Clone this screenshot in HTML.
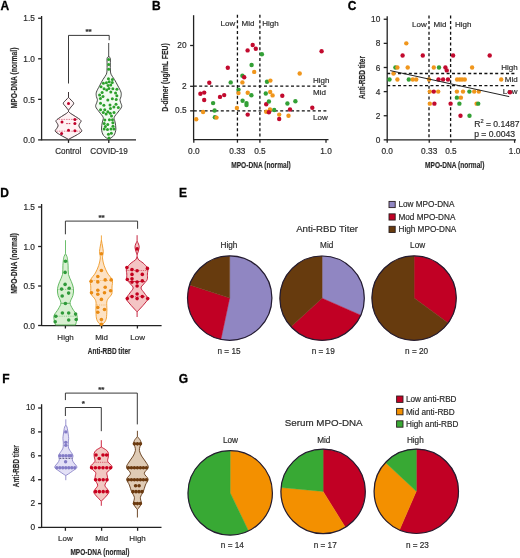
<!DOCTYPE html>
<html><head><meta charset="utf-8"><style>
html,body{margin:0;padding:0;background:#fff;}
svg{display:block;font-family:"Liberation Sans", sans-serif;filter:blur(0.3px);}
text{stroke:#2b2b2b;stroke-width:0.18px;}
</style></head><body>
<svg width="520" height="558" viewBox="0 0 520 558">
<rect width="520" height="558" fill="#fff"/>
<text x="0.5" y="10.3" font-size="12" text-anchor="start" font-weight="bold" fill="#000" style="stroke:#000;stroke-width:0.3px">A</text>
<text x="152.1" y="10.3" font-size="12" text-anchor="start" font-weight="bold" fill="#000" style="stroke:#000;stroke-width:0.3px">B</text>
<text x="347.7" y="10.3" font-size="12" text-anchor="start" font-weight="bold" fill="#000" style="stroke:#000;stroke-width:0.3px">C</text>
<text x="0.2" y="196.6" font-size="12" text-anchor="start" font-weight="bold" fill="#000" style="stroke:#000;stroke-width:0.3px">D</text>
<text x="179.1" y="196.6" font-size="12" text-anchor="start" font-weight="bold" fill="#000" style="stroke:#000;stroke-width:0.3px">E</text>
<text x="2.3" y="382.6" font-size="12" text-anchor="start" font-weight="bold" fill="#000" style="stroke:#000;stroke-width:0.3px">F</text>
<text x="178.7" y="382.6" font-size="12" text-anchor="start" font-weight="bold" fill="#000" style="stroke:#000;stroke-width:0.3px">G</text>
<line x1="41.60" y1="16.00" x2="41.60" y2="140.40" stroke="#222" stroke-width="1.3"/>
<line x1="38.10" y1="139.90" x2="41.60" y2="139.90" stroke="#222" stroke-width="1.3"/>
<text x="34.9" y="143.0" font-size="8.3" text-anchor="end" font-weight="normal" fill="#2b2b2b">0.0</text>
<line x1="38.10" y1="99.35" x2="41.60" y2="99.35" stroke="#222" stroke-width="1.3"/>
<text x="34.9" y="102.5" font-size="8.3" text-anchor="end" font-weight="normal" fill="#2b2b2b">0.5</text>
<line x1="38.10" y1="58.80" x2="41.60" y2="58.80" stroke="#222" stroke-width="1.3"/>
<text x="34.9" y="61.9" font-size="8.3" text-anchor="end" font-weight="normal" fill="#2b2b2b">1.0</text>
<line x1="38.10" y1="18.25" x2="41.60" y2="18.25" stroke="#222" stroke-width="1.3"/>
<text x="34.9" y="21.4" font-size="8.3" text-anchor="end" font-weight="normal" fill="#2b2b2b">1.5</text>
<line x1="41.60" y1="139.90" x2="136.00" y2="139.90" stroke="#222" stroke-width="1.3"/>
<line x1="68.50" y1="139.90" x2="68.50" y2="142.90" stroke="#222" stroke-width="1.3"/>
<line x1="108.80" y1="139.90" x2="108.80" y2="142.90" stroke="#222" stroke-width="1.3"/>
<text x="68.3" y="153.9" font-size="8.4" text-anchor="middle" font-weight="normal" fill="#2b2b2b" textLength="26.0" lengthAdjust="spacingAndGlyphs">Control</text>
<text x="109.1" y="153.9" font-size="8.4" text-anchor="middle" font-weight="normal" fill="#2b2b2b" textLength="37.6" lengthAdjust="spacingAndGlyphs">COVID-19</text>
<text transform="translate(13.5,78.0) rotate(-90)" x="0" y="3.47" font-size="9.7" text-anchor="middle" font-weight="bold" fill="#2b2b2b" textLength="61.0" lengthAdjust="spacingAndGlyphs">MPO-DNA (normal)</text>
<path d="M68.5,83.5 V35.4 H109.2 V40.2" fill="none" stroke="#222" stroke-width="0.9"/>
<text x="88.6" y="34.2" font-size="8" text-anchor="middle" font-weight="bold" fill="#2b2b2b">**</text>
<path d="M68.50,97.40 C68.92,97.83 70.13,99.02 71.00,100.00 C71.87,100.98 73.70,102.13 73.70,103.30 C73.70,104.47 71.87,105.83 71.00,107.00 C70.13,108.17 68.92,109.75 68.50,110.30 L68.50,110.30 C68.08,109.75 66.87,108.17 66.00,107.00 C65.13,105.83 63.30,104.47 63.30,103.30 C63.30,102.13 65.13,100.98 66.00,100.00 C66.87,99.02 68.08,97.83 68.50,97.40 Z" fill="#fff2f4" stroke="#2b1f22" stroke-width="0.9" stroke-linejoin="round"/>
<path d="M68.50,111.50 C68.87,111.83 69.53,112.67 70.70,113.50 C71.87,114.33 73.80,115.33 75.50,116.50 C77.20,117.67 80.20,119.33 80.90,120.50 C81.60,121.67 80.03,122.60 79.70,123.50 C79.37,124.40 78.80,125.07 78.90,125.90 C79.00,126.73 79.83,127.62 80.30,128.50 C80.77,129.38 82.17,130.20 81.70,131.20 C81.23,132.20 79.12,133.45 77.50,134.50 C75.88,135.55 73.50,136.68 72.00,137.50 C70.50,138.32 69.08,139.08 68.50,139.40 L68.50,139.40 C67.92,139.08 66.50,138.32 65.00,137.50 C63.50,136.68 61.12,135.55 59.50,134.50 C57.88,133.45 55.77,132.20 55.30,131.20 C54.83,130.20 56.23,129.38 56.70,128.50 C57.17,127.62 58.00,126.73 58.10,125.90 C58.20,125.07 57.63,124.40 57.30,123.50 C56.97,122.60 55.40,121.67 56.10,120.50 C56.80,119.33 59.80,117.67 61.50,116.50 C63.20,115.33 65.13,114.33 66.30,113.50 C67.47,112.67 68.13,111.83 68.50,111.50 Z" fill="#fff2f4" stroke="#2b1f22" stroke-width="0.9" stroke-linejoin="round"/>
<line x1="68.50" y1="92.00" x2="68.50" y2="97.40" stroke="#2b1f22" stroke-width="0.9"/>
<line x1="68.50" y1="110.30" x2="68.50" y2="111.50" stroke="#2b1f22" stroke-width="0.9"/>
<line x1="58.58" y1="119.40" x2="78.42" y2="119.40" stroke="#d03050" stroke-width="0.6" stroke-dasharray="1.5,1"/>
<line x1="56.30" y1="131.20" x2="80.70" y2="131.20" stroke="#d03050" stroke-width="0.6" stroke-dasharray="1.5,1"/>
<line x1="66.20" y1="123.60" x2="70.80" y2="123.60" stroke="#c0002a" stroke-width="0.8" stroke-dasharray="1.6,0.9"/>
<circle cx="68.50" cy="103.50" r="1.5" fill="#c0002a"/>
<circle cx="74.90" cy="119.40" r="1.5" fill="#c0002a"/>
<circle cx="62.00" cy="122.10" r="1.5" fill="#c0002a"/>
<circle cx="74.90" cy="123.50" r="1.5" fill="#c0002a"/>
<circle cx="68.50" cy="130.20" r="1.5" fill="#c0002a"/>
<circle cx="74.90" cy="130.70" r="1.5" fill="#c0002a"/>
<circle cx="61.60" cy="133.40" r="1.5" fill="#c0002a"/>
<line x1="108.70" y1="43.00" x2="108.70" y2="57.00" stroke="#333" stroke-width="0.9"/>
<path d="M108.70,56.70 C108.93,56.85 109.82,57.05 110.10,57.60 C110.38,58.15 110.37,58.77 110.40,60.00 C110.43,61.23 110.30,63.33 110.30,65.00 C110.30,66.67 110.28,68.47 110.40,70.00 C110.52,71.53 110.32,72.60 111.00,74.20 C111.68,75.80 113.35,77.65 114.50,79.60 C115.65,81.55 116.82,83.80 117.90,85.90 C118.98,88.00 120.48,90.42 121.00,92.20 C121.52,93.98 121.17,95.38 121.00,96.60 C120.83,97.82 120.08,98.57 120.00,99.50 C119.92,100.43 120.22,101.00 120.50,102.20 C120.78,103.40 122.10,105.07 121.70,106.70 C121.30,108.33 119.35,110.22 118.10,112.00 C116.85,113.78 114.72,115.75 114.20,117.40 C113.68,119.05 114.72,119.97 115.00,121.90 C115.28,123.83 116.08,126.75 115.90,129.00 C115.72,131.25 115.10,133.67 113.90,135.40 C112.70,137.13 109.57,138.73 108.70,139.40 L108.70,139.40 C107.83,138.73 104.70,137.13 103.50,135.40 C102.30,133.67 101.68,131.25 101.50,129.00 C101.32,126.75 102.12,123.83 102.40,121.90 C102.68,119.97 103.72,119.05 103.20,117.40 C102.68,115.75 100.55,113.78 99.30,112.00 C98.05,110.22 96.10,108.33 95.70,106.70 C95.30,105.07 96.62,103.40 96.90,102.20 C97.18,101.00 97.48,100.43 97.40,99.50 C97.32,98.57 96.57,97.82 96.40,96.60 C96.23,95.38 95.88,93.98 96.40,92.20 C96.92,90.42 98.42,88.00 99.50,85.90 C100.58,83.80 101.75,81.55 102.90,79.60 C104.05,77.65 105.72,75.80 106.40,74.20 C107.08,72.60 106.88,71.53 107.00,70.00 C107.12,68.47 107.10,66.67 107.10,65.00 C107.10,63.33 106.97,61.23 107.00,60.00 C107.03,58.77 107.02,58.15 107.30,57.60 C107.58,57.05 108.47,56.85 108.70,56.70 Z" fill="#f1fbf0" stroke="#333" stroke-width="0.9" stroke-linejoin="round"/>
<circle cx="108.70" cy="59.60" r="1.5" fill="#2ca02c"/>
<circle cx="108.70" cy="64.40" r="1.5" fill="#2ca02c"/>
<circle cx="108.70" cy="69.30" r="1.5" fill="#2ca02c"/>
<circle cx="110.00" cy="105.05" r="1.5" fill="#2ca02c"/>
<circle cx="108.44" cy="134.30" r="1.5" fill="#2ca02c"/>
<circle cx="110.46" cy="108.49" r="1.5" fill="#2ca02c"/>
<circle cx="108.91" cy="88.45" r="1.5" fill="#2ca02c"/>
<circle cx="111.50" cy="116.05" r="1.5" fill="#2ca02c"/>
<circle cx="106.40" cy="82.84" r="1.5" fill="#2ca02c"/>
<circle cx="112.25" cy="82.62" r="1.5" fill="#2ca02c"/>
<circle cx="104.80" cy="119.99" r="1.5" fill="#2ca02c"/>
<circle cx="108.94" cy="137.90" r="1.5" fill="#2ca02c"/>
<circle cx="101.01" cy="86.76" r="1.5" fill="#2ca02c"/>
<circle cx="100.58" cy="109.76" r="1.5" fill="#2ca02c"/>
<circle cx="104.09" cy="88.79" r="1.5" fill="#2ca02c"/>
<circle cx="108.44" cy="78.87" r="1.5" fill="#2ca02c"/>
<circle cx="116.00" cy="104.31" r="1.5" fill="#2ca02c"/>
<circle cx="103.85" cy="105.35" r="1.5" fill="#2ca02c"/>
<circle cx="110.97" cy="129.09" r="1.5" fill="#2ca02c"/>
<circle cx="102.97" cy="96.55" r="1.5" fill="#2ca02c"/>
<circle cx="99.59" cy="94.92" r="1.5" fill="#2ca02c"/>
<circle cx="107.72" cy="124.51" r="1.5" fill="#2ca02c"/>
<circle cx="107.49" cy="129.49" r="1.5" fill="#2ca02c"/>
<circle cx="103.35" cy="83.26" r="1.5" fill="#2ca02c"/>
<circle cx="105.37" cy="126.42" r="1.5" fill="#2ca02c"/>
<circle cx="107.87" cy="111.68" r="1.5" fill="#2ca02c"/>
<circle cx="112.85" cy="88.82" r="1.5" fill="#2ca02c"/>
<circle cx="110.73" cy="85.12" r="1.5" fill="#2ca02c"/>
<circle cx="116.86" cy="95.86" r="1.5" fill="#2ca02c"/>
<circle cx="106.68" cy="90.06" r="1.5" fill="#2ca02c"/>
<circle cx="110.83" cy="92.07" r="1.5" fill="#2ca02c"/>
<circle cx="107.79" cy="100.05" r="1.5" fill="#2ca02c"/>
<circle cx="114.01" cy="112.62" r="1.5" fill="#2ca02c"/>
<circle cx="111.34" cy="133.32" r="1.5" fill="#2ca02c"/>
<circle cx="102.12" cy="92.47" r="1.5" fill="#2ca02c"/>
<circle cx="112.86" cy="122.84" r="1.5" fill="#2ca02c"/>
<circle cx="116.91" cy="89.19" r="1.5" fill="#2ca02c"/>
<circle cx="100.50" cy="103.13" r="1.5" fill="#2ca02c"/>
<circle cx="112.37" cy="79.40" r="1.5" fill="#2ca02c"/>
<circle cx="115.56" cy="92.93" r="1.5" fill="#2ca02c"/>
<circle cx="106.11" cy="113.98" r="1.5" fill="#2ca02c"/>
<circle cx="103.28" cy="112.47" r="1.5" fill="#2ca02c"/>
<circle cx="116.22" cy="99.45" r="1.5" fill="#2ca02c"/>
<circle cx="109.42" cy="119.86" r="1.5" fill="#2ca02c"/>
<circle cx="113.85" cy="106.90" r="1.5" fill="#2ca02c"/>
<circle cx="109.18" cy="81.67" r="1.5" fill="#2ca02c"/>
<circle cx="112.97" cy="126.18" r="1.5" fill="#2ca02c"/>
<circle cx="112.34" cy="98.81" r="1.5" fill="#2ca02c"/>
<circle cx="110.20" cy="113.13" r="1.5" fill="#2ca02c"/>
<circle cx="104.12" cy="128.98" r="1.5" fill="#2ca02c"/>
<circle cx="104.18" cy="123.51" r="1.5" fill="#2ca02c"/>
<circle cx="113.99" cy="129.03" r="1.5" fill="#2ca02c"/>
<circle cx="108.05" cy="85.42" r="1.5" fill="#2ca02c"/>
<circle cx="100.43" cy="98.61" r="1.5" fill="#2ca02c"/>
<circle cx="112.46" cy="119.74" r="1.5" fill="#2ca02c"/>
<circle cx="118.34" cy="107.54" r="1.5" fill="#2ca02c"/>
<circle cx="104.80" cy="109.65" r="1.5" fill="#2ca02c"/>
<line x1="193.60" y1="15.20" x2="193.60" y2="140.20" stroke="#222" stroke-width="1.3"/>
<line x1="190.10" y1="45.50" x2="193.60" y2="45.50" stroke="#222" stroke-width="1.3"/>
<text x="186.6" y="48.0" font-size="8.3" text-anchor="end" font-weight="normal" fill="#2b2b2b">20</text>
<line x1="190.10" y1="86.30" x2="193.60" y2="86.30" stroke="#222" stroke-width="1.3"/>
<text x="186.6" y="88.8" font-size="8.3" text-anchor="end" font-weight="normal" fill="#2b2b2b">2</text>
<line x1="190.10" y1="110.86" x2="193.60" y2="110.86" stroke="#222" stroke-width="1.3"/>
<text x="186.6" y="113.4" font-size="8.3" text-anchor="end" font-weight="normal" fill="#2b2b2b">0.5</text>
<line x1="193.80" y1="139.70" x2="328.50" y2="139.70" stroke="#222" stroke-width="1.3"/>
<line x1="193.80" y1="139.70" x2="193.80" y2="142.70" stroke="#222" stroke-width="1.3"/>
<text x="193.8" y="154.0" font-size="8.3" text-anchor="middle" font-weight="normal" fill="#2b2b2b">0.0</text>
<line x1="237.43" y1="139.70" x2="237.43" y2="142.70" stroke="#222" stroke-width="1.3"/>
<text x="237.4" y="154.0" font-size="8.3" text-anchor="middle" font-weight="normal" fill="#2b2b2b">0.33</text>
<line x1="259.90" y1="139.70" x2="259.90" y2="142.70" stroke="#222" stroke-width="1.3"/>
<text x="259.9" y="154.0" font-size="8.3" text-anchor="middle" font-weight="normal" fill="#2b2b2b">0.5</text>
<line x1="326.00" y1="139.70" x2="326.00" y2="142.70" stroke="#222" stroke-width="1.3"/>
<text x="326.0" y="154.0" font-size="8.3" text-anchor="middle" font-weight="normal" fill="#2b2b2b">1.0</text>
<line x1="237.43" y1="14.80" x2="237.43" y2="139.70" stroke="#111" stroke-width="1.3" stroke-dasharray="3,2.4"/>
<line x1="259.90" y1="14.80" x2="259.90" y2="139.70" stroke="#111" stroke-width="1.3" stroke-dasharray="3,2.4"/>
<line x1="193.80" y1="86.20" x2="327.70" y2="86.20" stroke="#111" stroke-width="1.3" stroke-dasharray="3,2.4"/>
<line x1="193.80" y1="110.80" x2="327.70" y2="110.80" stroke="#111" stroke-width="1.3" stroke-dasharray="3,2.4"/>
<text x="235.3" y="25.8" font-size="8.0" text-anchor="end" font-weight="normal" fill="#2b2b2b">Low</text>
<text x="241.6" y="25.8" font-size="8.0" text-anchor="start" font-weight="normal" fill="#2b2b2b">Mid</text>
<text x="262.2" y="25.8" font-size="8.0" text-anchor="start" font-weight="normal" fill="#2b2b2b">High</text>
<text x="313.0" y="83.3" font-size="8.0" text-anchor="start" font-weight="normal" fill="#2b2b2b">High</text>
<text x="313.0" y="95.4" font-size="8.0" text-anchor="start" font-weight="normal" fill="#2b2b2b">Mid</text>
<text x="313.0" y="120.0" font-size="8.0" text-anchor="start" font-weight="normal" fill="#2b2b2b">Low</text>
<text transform="translate(164.7,77.5) rotate(-90)" x="0" y="3.47" font-size="9.7" text-anchor="middle" font-weight="bold" fill="#2b2b2b" textLength="68.5" lengthAdjust="spacingAndGlyphs">D-dimer (ug/mL FEU)</text>
<text x="231.2" y="168.0" font-size="9.7" text-anchor="start" font-weight="bold" fill="#2b2b2b" textLength="59.6" lengthAdjust="spacingAndGlyphs">MPO-DNA (normal)</text>
<circle cx="252.70" cy="45.00" r="2.2" fill="#c20a2e"/>
<circle cx="247.60" cy="50.40" r="2.2" fill="#c20a2e"/>
<circle cx="255.80" cy="48.80" r="2.2" fill="#c20a2e"/>
<circle cx="261.90" cy="54.20" r="2.2" fill="#33a036"/>
<circle cx="321.60" cy="51.20" r="2.2" fill="#c20a2e"/>
<circle cx="227.80" cy="67.80" r="2.2" fill="#c20a2e"/>
<circle cx="251.60" cy="65.00" r="2.2" fill="#33a036"/>
<circle cx="254.20" cy="71.90" r="2.2" fill="#f0961c"/>
<circle cx="242.40" cy="75.80" r="2.2" fill="#33a036"/>
<circle cx="244.20" cy="77.30" r="2.2" fill="#c20a2e"/>
<circle cx="209.30" cy="82.70" r="2.2" fill="#c20a2e"/>
<circle cx="230.70" cy="82.40" r="2.2" fill="#33a036"/>
<circle cx="242.40" cy="82.40" r="2.2" fill="#f0961c"/>
<circle cx="267.00" cy="81.80" r="2.2" fill="#33a036"/>
<circle cx="270.40" cy="80.60" r="2.2" fill="#f0961c"/>
<circle cx="299.70" cy="73.50" r="2.2" fill="#f0961c"/>
<circle cx="200.40" cy="93.80" r="2.2" fill="#c20a2e"/>
<circle cx="204.20" cy="92.60" r="2.2" fill="#c20a2e"/>
<circle cx="204.20" cy="100.00" r="2.2" fill="#c20a2e"/>
<circle cx="220.00" cy="96.90" r="2.2" fill="#c20a2e"/>
<circle cx="224.20" cy="95.10" r="2.2" fill="#c20a2e"/>
<circle cx="238.50" cy="89.60" r="2.2" fill="#33a036"/>
<circle cx="238.50" cy="93.10" r="2.2" fill="#f0961c"/>
<circle cx="247.70" cy="92.80" r="2.2" fill="#f0961c"/>
<circle cx="251.40" cy="95.20" r="2.2" fill="#33a036"/>
<circle cx="265.80" cy="93.50" r="2.2" fill="#33a036"/>
<circle cx="270.20" cy="92.00" r="2.2" fill="#f0961c"/>
<circle cx="272.60" cy="95.40" r="2.2" fill="#f0961c"/>
<circle cx="282.30" cy="95.80" r="2.2" fill="#c20a2e"/>
<circle cx="213.10" cy="103.10" r="2.2" fill="#33a036"/>
<circle cx="242.60" cy="100.80" r="2.2" fill="#33a036"/>
<circle cx="246.50" cy="103.10" r="2.2" fill="#33a036"/>
<circle cx="246.50" cy="105.10" r="2.2" fill="#33a036"/>
<circle cx="214.60" cy="110.50" r="2.2" fill="#33a036"/>
<circle cx="203.10" cy="112.00" r="2.2" fill="#f0961c"/>
<circle cx="236.90" cy="108.00" r="2.2" fill="#f0961c"/>
<circle cx="266.20" cy="104.30" r="2.2" fill="#c20a2e"/>
<circle cx="268.90" cy="101.50" r="2.2" fill="#33a036"/>
<circle cx="287.40" cy="103.50" r="2.2" fill="#33a036"/>
<circle cx="295.40" cy="101.20" r="2.2" fill="#33a036"/>
<circle cx="312.30" cy="107.70" r="2.2" fill="#c20a2e"/>
<circle cx="290.00" cy="109.50" r="2.2" fill="#c20a2e"/>
<circle cx="274.20" cy="110.00" r="2.2" fill="#33a036"/>
<circle cx="266.20" cy="111.70" r="2.2" fill="#f0961c"/>
<circle cx="270.00" cy="109.50" r="2.2" fill="#f0961c"/>
<circle cx="268.90" cy="112.30" r="2.2" fill="#c20a2e"/>
<circle cx="279.20" cy="114.60" r="2.2" fill="#f0961c"/>
<circle cx="279.20" cy="119.00" r="2.2" fill="#c20a2e"/>
<circle cx="288.50" cy="115.80" r="2.2" fill="#f0961c"/>
<circle cx="247.70" cy="114.60" r="2.2" fill="#c20a2e"/>
<circle cx="196.20" cy="119.20" r="2.2" fill="#f0961c"/>
<circle cx="214.90" cy="117.20" r="2.2" fill="#33a036"/>
<circle cx="216.50" cy="117.60" r="2.2" fill="#f0961c"/>
<line x1="387.20" y1="16.30" x2="387.20" y2="140.30" stroke="#222" stroke-width="1.3"/>
<line x1="383.70" y1="139.85" x2="387.20" y2="139.85" stroke="#222" stroke-width="1.3"/>
<text x="380.3" y="142.8" font-size="8.3" text-anchor="end" font-weight="normal" fill="#2b2b2b">0</text>
<line x1="383.70" y1="115.73" x2="387.20" y2="115.73" stroke="#222" stroke-width="1.3"/>
<text x="380.3" y="118.7" font-size="8.3" text-anchor="end" font-weight="normal" fill="#2b2b2b">2</text>
<line x1="383.70" y1="91.61" x2="387.20" y2="91.61" stroke="#222" stroke-width="1.3"/>
<text x="380.3" y="94.6" font-size="8.3" text-anchor="end" font-weight="normal" fill="#2b2b2b">4</text>
<line x1="383.70" y1="67.49" x2="387.20" y2="67.49" stroke="#222" stroke-width="1.3"/>
<text x="380.3" y="70.5" font-size="8.3" text-anchor="end" font-weight="normal" fill="#2b2b2b">6</text>
<line x1="383.70" y1="43.37" x2="387.20" y2="43.37" stroke="#222" stroke-width="1.3"/>
<text x="380.3" y="46.4" font-size="8.3" text-anchor="end" font-weight="normal" fill="#2b2b2b">8</text>
<line x1="383.70" y1="19.25" x2="387.20" y2="19.25" stroke="#222" stroke-width="1.3"/>
<text x="380.3" y="22.2" font-size="8.3" text-anchor="end" font-weight="normal" fill="#2b2b2b">10</text>
<line x1="387.20" y1="139.80" x2="516.00" y2="139.80" stroke="#222" stroke-width="1.3"/>
<line x1="387.20" y1="139.80" x2="387.20" y2="142.80" stroke="#222" stroke-width="1.3"/>
<text x="387.2" y="154.2" font-size="8.3" text-anchor="middle" font-weight="normal" fill="#2b2b2b">0.0</text>
<line x1="429.24" y1="139.80" x2="429.24" y2="142.80" stroke="#222" stroke-width="1.3"/>
<text x="429.2" y="154.2" font-size="8.3" text-anchor="middle" font-weight="normal" fill="#2b2b2b">0.33</text>
<line x1="450.90" y1="139.80" x2="450.90" y2="142.80" stroke="#222" stroke-width="1.3"/>
<text x="450.9" y="154.2" font-size="8.3" text-anchor="middle" font-weight="normal" fill="#2b2b2b">0.5</text>
<line x1="514.60" y1="139.80" x2="514.60" y2="142.80" stroke="#222" stroke-width="1.3"/>
<text x="514.6" y="154.2" font-size="8.3" text-anchor="middle" font-weight="normal" fill="#2b2b2b">1.0</text>
<line x1="429.00" y1="15.50" x2="429.00" y2="139.80" stroke="#111" stroke-width="1.3" stroke-dasharray="3,2.4"/>
<line x1="450.60" y1="15.50" x2="450.60" y2="139.80" stroke="#111" stroke-width="1.3" stroke-dasharray="3,2.4"/>
<line x1="387.20" y1="73.50" x2="514.60" y2="73.50" stroke="#111" stroke-width="1.3" stroke-dasharray="3,2.4"/>
<line x1="387.20" y1="85.60" x2="514.60" y2="85.60" stroke="#111" stroke-width="1.3" stroke-dasharray="3,2.4"/>
<text x="426.8" y="27.2" font-size="8.0" text-anchor="end" font-weight="normal" fill="#2b2b2b">Low</text>
<text x="433.5" y="27.2" font-size="8.0" text-anchor="start" font-weight="normal" fill="#2b2b2b">Mid</text>
<text x="455.0" y="27.2" font-size="8.0" text-anchor="start" font-weight="normal" fill="#2b2b2b">High</text>
<text x="517.7" y="69.9" font-size="8.0" text-anchor="end" font-weight="normal" fill="#2b2b2b">High</text>
<text x="517.7" y="81.9" font-size="8.0" text-anchor="end" font-weight="normal" fill="#2b2b2b">Mid</text>
<text x="517.5" y="94.3" font-size="8.0" text-anchor="end" font-weight="normal" fill="#2b2b2b">Low</text>
<text transform="translate(361.1,77.5) rotate(-90)" x="0" y="3.47" font-size="9.7" text-anchor="middle" font-weight="bold" fill="#2b2b2b" textLength="43.0" lengthAdjust="spacingAndGlyphs">Anti-RBD titer</text>
<text x="425.1" y="168.0" font-size="9.7" text-anchor="start" font-weight="bold" fill="#2b2b2b" textLength="59.3" lengthAdjust="spacingAndGlyphs">MPO-DNA (normal)</text>
<circle cx="406.30" cy="43.37" r="2.2" fill="#f0961c"/>
<circle cx="402.60" cy="55.43" r="2.2" fill="#c20a2e"/>
<circle cx="422.80" cy="55.43" r="2.2" fill="#c20a2e"/>
<circle cx="453.10" cy="55.43" r="2.2" fill="#c20a2e"/>
<circle cx="489.70" cy="55.43" r="2.2" fill="#c20a2e"/>
<circle cx="395.40" cy="67.49" r="2.2" fill="#33a036"/>
<circle cx="439.00" cy="67.49" r="2.2" fill="#33a036"/>
<circle cx="397.40" cy="67.49" r="2.2" fill="#f0961c"/>
<circle cx="407.70" cy="67.49" r="2.2" fill="#f0961c"/>
<circle cx="433.80" cy="67.49" r="2.2" fill="#f0961c"/>
<circle cx="472.10" cy="67.49" r="2.2" fill="#f0961c"/>
<circle cx="445.40" cy="67.49" r="2.2" fill="#c20a2e"/>
<circle cx="446.80" cy="70.40" r="2.2" fill="#c20a2e"/>
<circle cx="393.50" cy="73.52" r="2.2" fill="#f0961c"/>
<circle cx="389.50" cy="79.55" r="2.2" fill="#33a036"/>
<circle cx="408.80" cy="79.55" r="2.2" fill="#33a036"/>
<circle cx="397.40" cy="79.55" r="2.2" fill="#f0961c"/>
<circle cx="412.80" cy="79.55" r="2.2" fill="#f0961c"/>
<circle cx="416.20" cy="79.55" r="2.2" fill="#f0961c"/>
<circle cx="429.00" cy="79.55" r="2.2" fill="#f0961c"/>
<circle cx="457.10" cy="79.55" r="2.2" fill="#f0961c"/>
<circle cx="459.80" cy="79.55" r="2.2" fill="#f0961c"/>
<circle cx="462.10" cy="79.55" r="2.2" fill="#f0961c"/>
<circle cx="464.80" cy="79.55" r="2.2" fill="#f0961c"/>
<circle cx="501.20" cy="79.55" r="2.2" fill="#f0961c"/>
<circle cx="438.50" cy="79.55" r="2.2" fill="#c20a2e"/>
<circle cx="443.10" cy="79.55" r="2.2" fill="#c20a2e"/>
<circle cx="448.00" cy="79.55" r="2.2" fill="#c20a2e"/>
<circle cx="429.80" cy="91.61" r="2.2" fill="#f0961c"/>
<circle cx="438.20" cy="91.61" r="2.2" fill="#f0961c"/>
<circle cx="456.90" cy="91.61" r="2.2" fill="#f0961c"/>
<circle cx="463.00" cy="91.61" r="2.2" fill="#f0961c"/>
<circle cx="474.20" cy="91.61" r="2.2" fill="#f0961c"/>
<circle cx="478.80" cy="91.61" r="2.2" fill="#f0961c"/>
<circle cx="433.80" cy="91.61" r="2.2" fill="#c20a2e"/>
<circle cx="469.40" cy="91.61" r="2.2" fill="#33a036"/>
<circle cx="510.00" cy="92.30" r="2.2" fill="#c20a2e"/>
<circle cx="456.90" cy="97.64" r="2.2" fill="#33a036"/>
<circle cx="460.90" cy="97.64" r="2.2" fill="#f0961c"/>
<circle cx="429.80" cy="103.67" r="2.2" fill="#f0961c"/>
<circle cx="476.60" cy="103.67" r="2.2" fill="#f0961c"/>
<circle cx="434.40" cy="103.67" r="2.2" fill="#c20a2e"/>
<circle cx="450.60" cy="103.67" r="2.2" fill="#c20a2e"/>
<circle cx="459.40" cy="103.67" r="2.2" fill="#33a036"/>
<circle cx="478.20" cy="103.67" r="2.2" fill="#33a036"/>
<circle cx="460.50" cy="115.73" r="2.2" fill="#c20a2e"/>
<circle cx="469.50" cy="115.73" r="2.2" fill="#33a036"/>
<line x1="390.20" y1="70.60" x2="509.20" y2="96.60" stroke="#222" stroke-width="1.0"/>
<text x="474.2" y="126.5" font-size="8.6" text-anchor="start" font-weight="normal" fill="#2b2b2b">R<tspan font-size="5.6" dy="-3.2">2</tspan><tspan dy="3.2"> = 0.1487</tspan></text>
<text x="474.2" y="136.5" font-size="8.6" text-anchor="start" font-weight="normal" fill="#2b2b2b">p = 0.0043</text>
<line x1="41.60" y1="204.00" x2="41.60" y2="326.00" stroke="#222" stroke-width="1.3"/>
<line x1="38.10" y1="325.50" x2="41.60" y2="325.50" stroke="#222" stroke-width="1.3"/>
<text x="35.0" y="328.6" font-size="8.3" text-anchor="end" font-weight="normal" fill="#2b2b2b">0.0</text>
<line x1="38.10" y1="286.00" x2="41.60" y2="286.00" stroke="#222" stroke-width="1.3"/>
<text x="35.0" y="289.1" font-size="8.3" text-anchor="end" font-weight="normal" fill="#2b2b2b">0.5</text>
<line x1="38.10" y1="246.50" x2="41.60" y2="246.50" stroke="#222" stroke-width="1.3"/>
<text x="35.0" y="249.6" font-size="8.3" text-anchor="end" font-weight="normal" fill="#2b2b2b">1.0</text>
<line x1="38.10" y1="207.00" x2="41.60" y2="207.00" stroke="#222" stroke-width="1.3"/>
<text x="35.0" y="210.1" font-size="8.3" text-anchor="end" font-weight="normal" fill="#2b2b2b">1.5</text>
<line x1="41.60" y1="325.60" x2="161.60" y2="325.60" stroke="#222" stroke-width="1.3"/>
<line x1="65.40" y1="325.50" x2="65.40" y2="328.50" stroke="#222" stroke-width="1.3"/>
<line x1="101.60" y1="325.50" x2="101.60" y2="328.50" stroke="#222" stroke-width="1.3"/>
<line x1="137.40" y1="325.50" x2="137.40" y2="328.50" stroke="#222" stroke-width="1.3"/>
<text x="65.6" y="339.6" font-size="8.0" text-anchor="middle" font-weight="normal" fill="#2b2b2b">High</text>
<text x="101.6" y="339.6" font-size="8.0" text-anchor="middle" font-weight="normal" fill="#2b2b2b">Mid</text>
<text x="137.6" y="339.6" font-size="8.0" text-anchor="middle" font-weight="normal" fill="#2b2b2b">Low</text>
<text x="87.8" y="353.6" font-size="9.7" text-anchor="start" font-weight="bold" fill="#2b2b2b" textLength="42.8" lengthAdjust="spacingAndGlyphs">Anti-RBD titer</text>
<text transform="translate(13.5,263.5) rotate(-90)" x="0" y="3.47" font-size="9.7" text-anchor="middle" font-weight="bold" fill="#2b2b2b" textLength="60.5" lengthAdjust="spacingAndGlyphs">MPO-DNA (normal)</text>
<path d="M65.4,234.3 V221.1 H137.6 V228.8" fill="none" stroke="#222" stroke-width="0.9"/>
<text x="101.6" y="220.0" font-size="8" text-anchor="middle" font-weight="bold" fill="#2b2b2b">**</text>
<line x1="65.50" y1="240.20" x2="65.50" y2="253.60" stroke="#5cb85c" stroke-width="0.9"/>
<path d="M65.50,253.60 C65.70,254.00 66.38,255.22 66.70,256.00 C67.02,256.78 67.17,256.77 67.40,258.30 C67.63,259.83 67.92,262.50 68.10,265.20 C68.28,267.90 67.97,271.78 68.50,274.50 C69.03,277.22 70.47,279.17 71.30,281.50 C72.13,283.83 73.23,286.17 73.50,288.50 C73.77,290.83 73.47,293.13 72.90,295.50 C72.33,297.87 70.13,300.45 70.10,302.70 C70.07,304.95 71.57,306.90 72.70,309.00 C73.83,311.10 76.22,313.47 76.90,315.30 C77.58,317.13 77.03,318.38 76.80,320.00 C76.57,321.62 75.72,324.17 75.50,325.00 L55.50,325.00 C55.28,324.17 54.43,321.62 54.20,320.00 C53.97,318.38 53.42,317.13 54.10,315.30 C54.78,313.47 57.17,311.10 58.30,309.00 C59.43,306.90 60.93,304.95 60.90,302.70 C60.87,300.45 58.67,297.87 58.10,295.50 C57.53,293.13 57.23,290.83 57.50,288.50 C57.77,286.17 58.87,283.83 59.70,281.50 C60.53,279.17 61.97,277.22 62.50,274.50 C63.03,271.78 62.72,267.90 62.90,265.20 C63.08,262.50 63.37,259.83 63.60,258.30 C63.83,256.77 63.98,256.78 64.30,256.00 C64.62,255.22 65.30,254.00 65.50,253.60 Z" fill="#d9f0d2" stroke="#56b356" stroke-width="0.9" stroke-linejoin="round"/>
<line x1="58.38" y1="289.40" x2="72.62" y2="289.40" stroke="#60b060" stroke-width="0.6" stroke-dasharray="1.2,1"/>
<line x1="54.92" y1="316.20" x2="76.08" y2="316.20" stroke="#60b060" stroke-width="0.6" stroke-dasharray="1.2,1"/>
<line x1="61.15" y1="303.30" x2="69.85" y2="303.30" stroke="#4aa84a" stroke-width="0.8"/>
<circle cx="65.50" cy="261.20" r="1.8" fill="#2f9a3a"/>
<circle cx="65.10" cy="272.40" r="1.8" fill="#2f9a3a"/>
<circle cx="65.10" cy="284.40" r="1.8" fill="#2f9a3a"/>
<circle cx="61.60" cy="289.10" r="1.8" fill="#2f9a3a"/>
<circle cx="69.20" cy="288.30" r="1.8" fill="#2f9a3a"/>
<circle cx="68.60" cy="293.10" r="1.8" fill="#2f9a3a"/>
<circle cx="62.20" cy="296.00" r="1.8" fill="#2f9a3a"/>
<circle cx="65.40" cy="303.50" r="1.8" fill="#2f9a3a"/>
<circle cx="62.40" cy="313.00" r="1.8" fill="#2f9a3a"/>
<circle cx="68.70" cy="313.00" r="1.8" fill="#2f9a3a"/>
<circle cx="55.80" cy="316.20" r="1.8" fill="#2f9a3a"/>
<circle cx="75.60" cy="314.10" r="1.8" fill="#2f9a3a"/>
<circle cx="76.20" cy="319.50" r="1.8" fill="#2f9a3a"/>
<circle cx="68.70" cy="320.00" r="1.8" fill="#2f9a3a"/>
<circle cx="55.20" cy="321.80" r="1.8" fill="#2f9a3a"/>
<line x1="101.40" y1="235.40" x2="101.40" y2="240.00" stroke="#f0a030" stroke-width="0.9"/>
<path d="M101.40,240.00 C101.55,240.83 101.98,243.08 102.30,245.00 C102.62,246.92 103.23,249.75 103.30,251.50 C103.37,253.25 102.82,254.25 102.70,255.50 C102.58,256.75 102.37,257.33 102.60,259.00 C102.83,260.67 103.30,263.17 104.10,265.50 C104.90,267.83 106.05,270.58 107.40,273.00 C108.75,275.42 111.43,277.67 112.20,280.00 C112.97,282.33 112.07,284.67 112.00,287.00 C111.93,289.33 112.37,292.17 111.80,294.00 C111.23,295.83 109.43,296.67 108.60,298.00 C107.77,299.33 107.08,300.00 106.80,302.00 C106.52,304.00 106.97,307.33 106.90,310.00 C106.83,312.67 106.75,316.00 106.40,318.00 C106.05,320.00 105.55,320.83 104.80,322.00 C104.05,323.17 102.38,324.50 101.90,325.00 L100.90,325.00 C100.42,324.50 98.75,323.17 98.00,322.00 C97.25,320.83 96.75,320.00 96.40,318.00 C96.05,316.00 95.97,312.67 95.90,310.00 C95.83,307.33 96.28,304.00 96.00,302.00 C95.72,300.00 95.03,299.33 94.20,298.00 C93.37,296.67 91.57,295.83 91.00,294.00 C90.43,292.17 90.87,289.33 90.80,287.00 C90.73,284.67 89.83,282.33 90.60,280.00 C91.37,277.67 94.05,275.42 95.40,273.00 C96.75,270.58 97.90,267.83 98.70,265.50 C99.50,263.17 99.97,260.67 100.20,259.00 C100.43,257.33 100.22,256.75 100.10,255.50 C99.98,254.25 99.43,253.25 99.50,251.50 C99.57,249.75 100.18,246.92 100.50,245.00 C100.82,243.08 101.25,240.83 101.40,240.00 Z" fill="#fde2c4" stroke="#ef9a28" stroke-width="0.9" stroke-linejoin="round"/>
<line x1="91.41" y1="280.50" x2="111.39" y2="280.50" stroke="#f0a030" stroke-width="0.6" stroke-dasharray="1.2,1"/>
<line x1="96.76" y1="305.00" x2="106.04" y2="305.00" stroke="#f0a030" stroke-width="0.6" stroke-dasharray="1.2,1"/>
<circle cx="101.40" cy="253.70" r="1.8" fill="#e98a12"/>
<circle cx="101.40" cy="270.50" r="1.8" fill="#e98a12"/>
<circle cx="97.80" cy="276.50" r="1.8" fill="#e98a12"/>
<circle cx="105.20" cy="279.90" r="1.8" fill="#e98a12"/>
<circle cx="97.80" cy="281.90" r="1.8" fill="#e98a12"/>
<circle cx="91.10" cy="281.20" r="1.8" fill="#e98a12"/>
<circle cx="111.20" cy="279.90" r="1.8" fill="#e98a12"/>
<circle cx="105.20" cy="287.30" r="1.8" fill="#e98a12"/>
<circle cx="97.80" cy="290.30" r="1.8" fill="#e98a12"/>
<circle cx="97.80" cy="294.30" r="1.8" fill="#e98a12"/>
<circle cx="104.50" cy="292.70" r="1.8" fill="#e98a12"/>
<circle cx="91.50" cy="292.70" r="1.8" fill="#e98a12"/>
<circle cx="110.60" cy="290.70" r="1.8" fill="#e98a12"/>
<circle cx="101.40" cy="299.40" r="1.8" fill="#e98a12"/>
<circle cx="97.80" cy="307.50" r="1.8" fill="#e98a12"/>
<circle cx="104.50" cy="309.50" r="1.8" fill="#e98a12"/>
<circle cx="97.80" cy="312.20" r="1.8" fill="#e98a12"/>
<circle cx="101.40" cy="319.60" r="1.8" fill="#e98a12"/>
<circle cx="101.40" cy="324.30" r="1.8" fill="#e98a12"/>
<line x1="137.10" y1="235.20" x2="137.10" y2="241.20" stroke="#c0102e" stroke-width="0.9"/>
<path d="M137.10,241.20 C137.33,241.67 138.15,243.02 138.50,244.00 C138.85,244.98 139.22,245.93 139.20,247.10 C139.18,248.27 138.75,249.72 138.40,251.00 C138.05,252.28 137.32,254.17 137.10,254.80 L137.10,254.80 C136.88,254.17 136.15,252.28 135.80,251.00 C135.45,249.72 135.02,248.27 135.00,247.10 C134.98,245.93 135.35,244.98 135.70,244.00 C136.05,243.02 136.87,241.67 137.10,241.20 Z" fill="#f4c4c4" stroke="#c0102e" stroke-width="0.9" stroke-linejoin="round"/>
<line x1="137.10" y1="254.80" x2="137.10" y2="256.50" stroke="#c0102e" stroke-width="0.9"/>
<path d="M137.10,256.50 C137.37,257.07 137.70,258.82 138.70,259.90 C139.70,260.98 141.62,261.58 143.10,263.00 C144.58,264.42 146.88,266.57 147.60,268.40 C148.32,270.23 147.47,272.15 147.40,274.00 C147.33,275.85 147.82,277.83 147.20,279.50 C146.58,281.17 144.73,282.58 143.70,284.00 C142.67,285.42 140.90,286.50 141.00,288.00 C141.10,289.50 143.17,291.23 144.30,293.00 C145.43,294.77 147.67,296.93 147.80,298.60 C147.93,300.27 146.28,301.43 145.10,303.00 C143.92,304.57 142.03,306.52 140.70,308.00 C139.37,309.48 137.70,311.25 137.10,311.90 L137.10,311.90 C136.50,311.25 134.83,309.48 133.50,308.00 C132.17,306.52 130.28,304.57 129.10,303.00 C127.92,301.43 126.27,300.27 126.40,298.60 C126.53,296.93 128.77,294.77 129.90,293.00 C131.03,291.23 133.10,289.50 133.20,288.00 C133.30,286.50 131.53,285.42 130.50,284.00 C129.47,282.58 127.62,281.17 127.00,279.50 C126.38,277.83 126.87,275.85 126.80,274.00 C126.73,272.15 125.88,270.23 126.60,268.40 C127.32,266.57 129.62,264.42 131.10,263.00 C132.58,261.58 134.50,260.98 135.50,259.90 C136.50,258.82 136.83,257.07 137.10,256.50 Z" fill="#f4c4c4" stroke="#c0102e" stroke-width="0.9" stroke-linejoin="round"/>
<line x1="137.10" y1="311.90" x2="137.10" y2="317.00" stroke="#c0102e" stroke-width="0.9"/>
<line x1="127.47" y1="270.50" x2="146.72" y2="270.50" stroke="#c8203a" stroke-width="0.6" stroke-dasharray="1.2,1"/>
<line x1="128.45" y1="296.60" x2="145.75" y2="296.60" stroke="#c8203a" stroke-width="0.6" stroke-dasharray="1.2,1"/>
<line x1="129.16" y1="281.50" x2="145.04" y2="281.50" stroke="#c0102e" stroke-width="0.8"/>
<circle cx="137.10" cy="248.90" r="1.8" fill="#c4001f"/>
<circle cx="126.90" cy="267.60" r="1.8" fill="#c4001f"/>
<circle cx="132.00" cy="269.60" r="1.8" fill="#c4001f"/>
<circle cx="137.10" cy="270.70" r="1.8" fill="#c4001f"/>
<circle cx="147.40" cy="268.40" r="1.8" fill="#c4001f"/>
<circle cx="132.00" cy="274.40" r="1.8" fill="#c4001f"/>
<circle cx="142.30" cy="274.40" r="1.8" fill="#c4001f"/>
<circle cx="127.30" cy="279.50" r="1.8" fill="#c4001f"/>
<circle cx="132.00" cy="278.70" r="1.8" fill="#c4001f"/>
<circle cx="132.00" cy="282.10" r="1.8" fill="#c4001f"/>
<circle cx="137.10" cy="282.10" r="1.8" fill="#c4001f"/>
<circle cx="142.30" cy="280.90" r="1.8" fill="#c4001f"/>
<circle cx="137.10" cy="286.00" r="1.8" fill="#c4001f"/>
<circle cx="132.00" cy="296.60" r="1.8" fill="#c4001f"/>
<circle cx="137.10" cy="294.00" r="1.8" fill="#c4001f"/>
<circle cx="137.10" cy="298.60" r="1.8" fill="#c4001f"/>
<circle cx="142.30" cy="296.60" r="1.8" fill="#c4001f"/>
<circle cx="127.30" cy="298.60" r="1.8" fill="#c4001f"/>
<circle cx="147.70" cy="298.60" r="1.8" fill="#c4001f"/>
<rect x="389.0" y="201.40" width="6.2" height="6.2" fill="#9086c2" stroke="#2a1f1f" stroke-width="0.9"/>
<text x="398.5" y="207.4" font-size="8.2" text-anchor="start" font-weight="normal" fill="#2b2b2b">Low MPO-DNA</text>
<rect x="389.0" y="213.85" width="6.2" height="6.2" fill="#c10024" stroke="#2a1f1f" stroke-width="0.9"/>
<text x="398.5" y="219.7" font-size="8.2" text-anchor="start" font-weight="normal" fill="#2b2b2b">Mod MPO-DNA</text>
<rect x="389.0" y="226.30" width="6.2" height="6.2" fill="#673b0e" stroke="#2a1f1f" stroke-width="0.9"/>
<text x="398.5" y="232.0" font-size="8.2" text-anchor="start" font-weight="normal" fill="#2b2b2b">High MPO-DNA</text>
<text x="327.1" y="232.1" font-size="9.7" text-anchor="middle" font-weight="normal" fill="#2b2b2b">Anti-RBD Titer</text>
<text x="229.0" y="247.8" font-size="8.2" text-anchor="middle" font-weight="normal" fill="#2b2b2b">High</text>
<text x="326.7" y="247.8" font-size="8.2" text-anchor="middle" font-weight="normal" fill="#2b2b2b">Mid</text>
<text x="417.6" y="247.8" font-size="8.2" text-anchor="middle" font-weight="normal" fill="#2b2b2b">Low</text>
<path d="M229.70,298.10 L229.70,255.90 A42.2,42.2 0 1 1 220.93,339.38 Z" fill="#9086c2" stroke="#9086c2" stroke-width="0.4"/>
<path d="M229.70,298.10 L220.93,339.38 A42.2,42.2 0 0 1 189.57,285.06 Z" fill="#c10024" stroke="#c10024" stroke-width="0.4"/>
<path d="M229.70,298.10 L189.57,285.06 A42.2,42.2 0 0 1 229.70,255.90 Z" fill="#673b0e" stroke="#673b0e" stroke-width="0.4"/>
<circle cx="229.7" cy="298.1" r="42.2" fill="none" stroke="#241c30" stroke-width="1.2"/>
<path d="M322.10,298.20 L322.10,256.00 A42.2,42.2 0 0 1 360.75,315.15 Z" fill="#9086c2" stroke="#9086c2" stroke-width="0.4"/>
<path d="M322.10,298.20 L360.75,315.15 A42.2,42.2 0 0 1 291.05,326.78 Z" fill="#c10024" stroke="#c10024" stroke-width="0.4"/>
<path d="M322.10,298.20 L291.05,326.78 A42.2,42.2 0 0 1 322.10,256.00 Z" fill="#673b0e" stroke="#673b0e" stroke-width="0.4"/>
<circle cx="322.1" cy="298.2" r="42.2" fill="none" stroke="#241c30" stroke-width="1.2"/>
<path d="M414.10,298.10 L414.10,255.90 A42.2,42.2 0 0 1 448.24,322.90 Z" fill="#c10024" stroke="#c10024" stroke-width="0.4"/>
<path d="M414.10,298.10 L448.24,322.90 A42.2,42.2 0 1 1 414.10,255.90 Z" fill="#673b0e" stroke="#673b0e" stroke-width="0.4"/>
<circle cx="414.1" cy="298.1" r="42.2" fill="none" stroke="#241c30" stroke-width="1.2"/>
<text x="229.0" y="354.4" font-size="8.2" text-anchor="middle" font-weight="normal" fill="#2b2b2b">n = 15</text>
<text x="323.2" y="354.0" font-size="8.2" text-anchor="middle" font-weight="normal" fill="#2b2b2b">n = 19</text>
<text x="416.6" y="354.0" font-size="8.2" text-anchor="middle" font-weight="normal" fill="#2b2b2b">n = 20</text>
<line x1="41.60" y1="404.20" x2="41.60" y2="528.00" stroke="#222" stroke-width="1.3"/>
<line x1="38.10" y1="527.50" x2="41.60" y2="527.50" stroke="#222" stroke-width="1.3"/>
<text x="35.2" y="529.9" font-size="8.3" text-anchor="end" font-weight="normal" fill="#2b2b2b">0</text>
<line x1="38.10" y1="503.60" x2="41.60" y2="503.60" stroke="#222" stroke-width="1.3"/>
<text x="35.2" y="506.0" font-size="8.3" text-anchor="end" font-weight="normal" fill="#2b2b2b">2</text>
<line x1="38.10" y1="479.70" x2="41.60" y2="479.70" stroke="#222" stroke-width="1.3"/>
<text x="35.2" y="482.1" font-size="8.3" text-anchor="end" font-weight="normal" fill="#2b2b2b">4</text>
<line x1="38.10" y1="455.80" x2="41.60" y2="455.80" stroke="#222" stroke-width="1.3"/>
<text x="35.2" y="458.2" font-size="8.3" text-anchor="end" font-weight="normal" fill="#2b2b2b">6</text>
<line x1="38.10" y1="431.90" x2="41.60" y2="431.90" stroke="#222" stroke-width="1.3"/>
<text x="35.2" y="434.3" font-size="8.3" text-anchor="end" font-weight="normal" fill="#2b2b2b">8</text>
<line x1="38.10" y1="408.00" x2="41.60" y2="408.00" stroke="#222" stroke-width="1.3"/>
<text x="35.2" y="410.4" font-size="8.3" text-anchor="end" font-weight="normal" fill="#2b2b2b">10</text>
<line x1="41.60" y1="527.40" x2="161.50" y2="527.40" stroke="#222" stroke-width="1.3"/>
<line x1="65.40" y1="527.40" x2="65.40" y2="530.80" stroke="#222" stroke-width="1.3"/>
<line x1="101.60" y1="527.40" x2="101.60" y2="530.80" stroke="#222" stroke-width="1.3"/>
<line x1="137.60" y1="527.40" x2="137.60" y2="530.80" stroke="#222" stroke-width="1.3"/>
<text x="65.4" y="541.2" font-size="8.0" text-anchor="middle" font-weight="normal" fill="#2b2b2b">Low</text>
<text x="101.8" y="541.2" font-size="8.0" text-anchor="middle" font-weight="normal" fill="#2b2b2b">Mid</text>
<text x="137.6" y="541.2" font-size="8.0" text-anchor="middle" font-weight="normal" fill="#2b2b2b">High</text>
<text x="70.4" y="555.2" font-size="9.7" text-anchor="start" font-weight="bold" fill="#2b2b2b" textLength="59.0" lengthAdjust="spacingAndGlyphs">MPO-DNA (normal)</text>
<text transform="translate(15.8,466.2) rotate(-90)" x="0" y="3.47" font-size="9.7" text-anchor="middle" font-weight="bold" fill="#2b2b2b" textLength="42.0" lengthAdjust="spacingAndGlyphs">Anti-RBD titer</text>
<path d="M65.4,400.1 V393.1 H137.3 V424.4" fill="none" stroke="#222" stroke-width="0.9"/>
<path d="M65.4,416 V407.5 H101.3 V431.2" fill="none" stroke="#222" stroke-width="0.9"/>
<text x="101.3" y="392.0" font-size="8" text-anchor="middle" font-weight="bold" fill="#2b2b2b">**</text>
<text x="83.4" y="406.2" font-size="8" text-anchor="middle" font-weight="bold" fill="#2b2b2b">*</text>
<line x1="65.80" y1="419.30" x2="65.80" y2="425.00" stroke="#8c86c8" stroke-width="0.9"/>
<path d="M65.80,425.00 C66.00,425.33 66.70,426.17 67.00,427.00 C67.30,427.83 67.40,428.83 67.60,430.00 C67.80,431.17 68.02,432.60 68.20,434.00 C68.38,435.40 68.68,437.07 68.70,438.40 C68.72,439.73 68.35,440.60 68.30,442.00 C68.25,443.40 68.28,445.63 68.40,446.80 C68.52,447.97 68.63,448.22 69.00,449.00 C69.37,449.78 70.05,450.67 70.60,451.50 C71.15,452.33 71.90,453.23 72.30,454.00 C72.70,454.77 73.00,455.12 73.00,456.10 C73.00,457.08 72.13,458.75 72.30,459.90 C72.47,461.05 73.23,461.77 74.00,463.00 C74.77,464.23 77.13,465.97 76.90,467.30 C76.67,468.63 74.03,469.88 72.60,471.00 C71.17,472.12 69.43,473.25 68.30,474.00 C67.17,474.75 66.22,475.25 65.80,475.50 L65.80,475.50 C65.38,475.25 64.43,474.75 63.30,474.00 C62.17,473.25 60.43,472.12 59.00,471.00 C57.57,469.88 54.93,468.63 54.70,467.30 C54.47,465.97 56.83,464.23 57.60,463.00 C58.37,461.77 59.13,461.05 59.30,459.90 C59.47,458.75 58.60,457.08 58.60,456.10 C58.60,455.12 58.90,454.77 59.30,454.00 C59.70,453.23 60.45,452.33 61.00,451.50 C61.55,450.67 62.23,449.78 62.60,449.00 C62.97,448.22 63.08,447.97 63.20,446.80 C63.32,445.63 63.35,443.40 63.30,442.00 C63.25,440.60 62.88,439.73 62.90,438.40 C62.92,437.07 63.22,435.40 63.40,434.00 C63.58,432.60 63.80,431.17 64.00,430.00 C64.20,428.83 64.30,427.83 64.60,427.00 C64.90,426.17 65.60,425.33 65.80,425.00 Z" fill="#e3e0f6" stroke="#8c86c8" stroke-width="0.9" stroke-linejoin="round"/>
<line x1="65.80" y1="475.50" x2="65.80" y2="480.20" stroke="#8c86c8" stroke-width="0.9"/>
<line x1="59.50" y1="458.40" x2="72.20" y2="458.40" stroke="#3a3560" stroke-width="0.8" stroke-dasharray="1.8,1.2"/>
<circle cx="65.80" cy="431.90" r="1.7" fill="#837bc6"/>
<circle cx="65.80" cy="442.35" r="1.7" fill="#837bc6"/>
<circle cx="65.80" cy="445.35" r="1.7" fill="#837bc6"/>
<circle cx="60.00" cy="455.80" r="1.7" fill="#837bc6"/>
<circle cx="63.00" cy="455.80" r="1.7" fill="#837bc6"/>
<circle cx="66.00" cy="455.80" r="1.7" fill="#837bc6"/>
<circle cx="69.00" cy="455.80" r="1.7" fill="#837bc6"/>
<circle cx="71.00" cy="455.80" r="1.7" fill="#837bc6"/>
<circle cx="65.60" cy="461.77" r="1.7" fill="#837bc6"/>
<circle cx="56.80" cy="467.75" r="1.7" fill="#837bc6"/>
<circle cx="59.80" cy="467.75" r="1.7" fill="#837bc6"/>
<circle cx="62.80" cy="467.75" r="1.7" fill="#837bc6"/>
<circle cx="65.80" cy="467.75" r="1.7" fill="#837bc6"/>
<circle cx="68.80" cy="467.75" r="1.7" fill="#837bc6"/>
<circle cx="71.80" cy="467.75" r="1.7" fill="#837bc6"/>
<circle cx="74.80" cy="467.75" r="1.7" fill="#837bc6"/>
<line x1="101.30" y1="440.20" x2="101.30" y2="447.00" stroke="#c8102e" stroke-width="0.9"/>
<path d="M101.30,447.00 C101.72,447.25 102.88,447.92 103.80,448.50 C104.72,449.08 106.02,449.67 106.80,450.50 C107.58,451.33 108.25,452.42 108.50,453.50 C108.75,454.58 108.42,455.65 108.30,457.00 C108.18,458.35 107.17,459.95 107.80,461.60 C108.43,463.25 112.22,465.12 112.10,466.90 C111.98,468.68 107.90,470.78 107.10,472.30 C106.30,473.82 107.23,474.73 107.30,476.00 C107.37,477.27 107.90,478.37 107.50,479.90 C107.10,481.43 104.93,483.68 104.90,485.20 C104.87,486.72 106.63,487.85 107.30,489.00 C107.97,490.15 109.07,490.93 108.90,492.10 C108.73,493.27 107.57,494.48 106.30,496.00 C105.03,497.52 102.13,500.33 101.30,501.20 L101.30,501.20 C100.47,500.33 97.57,497.52 96.30,496.00 C95.03,494.48 93.87,493.27 93.70,492.10 C93.53,490.93 94.63,490.15 95.30,489.00 C95.97,487.85 97.73,486.72 97.70,485.20 C97.67,483.68 95.50,481.43 95.10,479.90 C94.70,478.37 95.23,477.27 95.30,476.00 C95.37,474.73 96.30,473.82 95.50,472.30 C94.70,470.78 90.62,468.68 90.50,466.90 C90.38,465.12 94.17,463.25 94.80,461.60 C95.43,459.95 94.42,458.35 94.30,457.00 C94.18,455.65 93.85,454.58 94.10,453.50 C94.35,452.42 95.02,451.33 95.80,450.50 C96.58,449.67 97.88,449.08 98.80,448.50 C99.72,447.92 100.88,447.25 101.30,447.00 Z" fill="#f2c8c2" stroke="#c8102e" stroke-width="0.9" stroke-linejoin="round"/>
<line x1="101.30" y1="501.20" x2="101.30" y2="505.80" stroke="#c8102e" stroke-width="0.9"/>
<line x1="95.50" y1="462.30" x2="107.50" y2="462.30" stroke="#c8102e" stroke-width="0.6" stroke-dasharray="1.2,1"/>
<circle cx="96.00" cy="455.00" r="1.8" fill="#c8001e"/>
<circle cx="99.20" cy="458.50" r="1.8" fill="#c8001e"/>
<circle cx="103.00" cy="455.00" r="1.8" fill="#c8001e"/>
<circle cx="106.60" cy="455.00" r="1.8" fill="#c8001e"/>
<circle cx="91.60" cy="467.75" r="1.8" fill="#c8001e"/>
<circle cx="95.40" cy="467.75" r="1.8" fill="#c8001e"/>
<circle cx="99.20" cy="467.75" r="1.8" fill="#c8001e"/>
<circle cx="103.00" cy="467.75" r="1.8" fill="#c8001e"/>
<circle cx="106.80" cy="467.75" r="1.8" fill="#c8001e"/>
<circle cx="110.60" cy="467.75" r="1.8" fill="#c8001e"/>
<circle cx="95.60" cy="479.70" r="1.8" fill="#c8001e"/>
<circle cx="99.40" cy="479.70" r="1.8" fill="#c8001e"/>
<circle cx="103.20" cy="479.70" r="1.8" fill="#c8001e"/>
<circle cx="107.00" cy="479.70" r="1.8" fill="#c8001e"/>
<circle cx="95.60" cy="491.65" r="1.8" fill="#c8001e"/>
<circle cx="99.40" cy="491.65" r="1.8" fill="#c8001e"/>
<circle cx="103.20" cy="491.65" r="1.8" fill="#c8001e"/>
<circle cx="107.00" cy="491.65" r="1.8" fill="#c8001e"/>
<line x1="137.40" y1="430.80" x2="137.40" y2="436.50" stroke="#5e3412" stroke-width="0.9"/>
<path d="M137.40,436.50 C137.67,436.83 138.50,437.83 139.00,438.50 C139.50,439.17 140.05,439.70 140.40,440.50 C140.75,441.30 141.17,442.30 141.10,443.30 C141.03,444.30 140.28,445.30 140.00,446.50 C139.72,447.70 139.13,448.92 139.40,450.50 C139.67,452.08 140.53,454.08 141.60,456.00 C142.67,457.92 144.68,460.08 145.80,462.00 C146.92,463.92 148.55,465.62 148.30,467.50 C148.05,469.38 144.33,471.37 144.30,473.30 C144.27,475.23 147.92,477.15 148.10,479.10 C148.28,481.05 146.20,482.93 145.40,485.00 C144.60,487.07 144.13,489.43 143.30,491.50 C142.47,493.57 140.72,495.43 140.40,497.40 C140.08,499.37 141.57,501.70 141.40,503.30 C141.23,504.90 140.07,505.95 139.40,507.00 C138.73,508.05 137.73,509.17 137.40,509.60 L137.40,509.60 C137.07,509.17 136.07,508.05 135.40,507.00 C134.73,505.95 133.57,504.90 133.40,503.30 C133.23,501.70 134.72,499.37 134.40,497.40 C134.08,495.43 132.33,493.57 131.50,491.50 C130.67,489.43 130.20,487.07 129.40,485.00 C128.60,482.93 126.52,481.05 126.70,479.10 C126.88,477.15 130.53,475.23 130.50,473.30 C130.47,471.37 126.75,469.38 126.50,467.50 C126.25,465.62 127.88,463.92 129.00,462.00 C130.12,460.08 132.13,457.92 133.20,456.00 C134.27,454.08 135.13,452.08 135.40,450.50 C135.67,448.92 135.08,447.70 134.80,446.50 C134.52,445.30 133.77,444.30 133.70,443.30 C133.63,442.30 134.05,441.30 134.40,440.50 C134.75,439.70 135.30,439.17 135.80,438.50 C136.30,437.83 137.13,436.83 137.40,436.50 Z" fill="#dfcbb5" stroke="#5e3412" stroke-width="0.9" stroke-linejoin="round"/>
<line x1="137.40" y1="509.60" x2="137.40" y2="517.50" stroke="#5e3412" stroke-width="0.9"/>
<circle cx="134.40" cy="443.85" r="1.8" fill="#6b3a10"/>
<circle cx="137.40" cy="443.85" r="1.8" fill="#6b3a10"/>
<circle cx="140.40" cy="443.85" r="1.8" fill="#6b3a10"/>
<circle cx="128.40" cy="467.75" r="1.8" fill="#6b3a10"/>
<circle cx="131.40" cy="467.75" r="1.8" fill="#6b3a10"/>
<circle cx="134.40" cy="467.75" r="1.8" fill="#6b3a10"/>
<circle cx="137.40" cy="467.75" r="1.8" fill="#6b3a10"/>
<circle cx="140.40" cy="467.75" r="1.8" fill="#6b3a10"/>
<circle cx="143.40" cy="467.75" r="1.8" fill="#6b3a10"/>
<circle cx="146.40" cy="467.75" r="1.8" fill="#6b3a10"/>
<circle cx="128.40" cy="479.70" r="1.8" fill="#6b3a10"/>
<circle cx="131.40" cy="479.70" r="1.8" fill="#6b3a10"/>
<circle cx="134.40" cy="479.70" r="1.8" fill="#6b3a10"/>
<circle cx="137.40" cy="479.70" r="1.8" fill="#6b3a10"/>
<circle cx="140.40" cy="479.70" r="1.8" fill="#6b3a10"/>
<circle cx="143.40" cy="479.70" r="1.8" fill="#6b3a10"/>
<circle cx="146.40" cy="479.70" r="1.8" fill="#6b3a10"/>
<circle cx="135.60" cy="485.68" r="1.8" fill="#6b3a10"/>
<circle cx="139.10" cy="485.68" r="1.8" fill="#6b3a10"/>
<circle cx="133.00" cy="491.65" r="1.8" fill="#6b3a10"/>
<circle cx="136.00" cy="491.65" r="1.8" fill="#6b3a10"/>
<circle cx="139.00" cy="491.65" r="1.8" fill="#6b3a10"/>
<circle cx="142.00" cy="491.65" r="1.8" fill="#6b3a10"/>
<circle cx="134.50" cy="503.60" r="1.8" fill="#6b3a10"/>
<circle cx="137.40" cy="503.60" r="1.8" fill="#6b3a10"/>
<circle cx="140.30" cy="503.60" r="1.8" fill="#6b3a10"/>
<rect x="396.6" y="396.0" width="6.4" height="6.4" fill="#c10024" stroke="#2a1f1f" stroke-width="0.9"/>
<text x="406.0" y="402.1" font-size="8.2" text-anchor="start" font-weight="normal" fill="#2b2b2b">Low anti-RBD</text>
<rect x="396.6" y="408.4" width="6.4" height="6.4" fill="#f39000" stroke="#2a1f1f" stroke-width="0.9"/>
<text x="406.0" y="414.5" font-size="8.2" text-anchor="start" font-weight="normal" fill="#2b2b2b">Mid anti-RBD</text>
<rect x="396.6" y="420.8" width="6.4" height="6.4" fill="#38a934" stroke="#2a1f1f" stroke-width="0.9"/>
<text x="406.0" y="426.9" font-size="8.2" text-anchor="start" font-weight="normal" fill="#2b2b2b">High anti-RBD</text>
<text x="323.7" y="426.3" font-size="9.8" text-anchor="middle" font-weight="normal" fill="#2b2b2b">Serum MPO-DNA</text>
<text x="230.4" y="442.6" font-size="8.2" text-anchor="middle" font-weight="normal" fill="#2b2b2b">Low</text>
<text x="323.8" y="442.6" font-size="8.2" text-anchor="middle" font-weight="normal" fill="#2b2b2b">Mid</text>
<text x="415.3" y="442.5" font-size="8.2" text-anchor="middle" font-weight="normal" fill="#2b2b2b">High</text>
<path d="M230.20,492.90 L230.20,450.70 A42.2,42.2 0 0 1 248.51,530.92 Z" fill="#f39000" stroke="#f39000" stroke-width="0.4"/>
<path d="M230.20,492.90 L248.51,530.92 A42.2,42.2 0 1 1 230.20,450.70 Z" fill="#38a934" stroke="#38a934" stroke-width="0.4"/>
<circle cx="230.2" cy="492.9" r="42.2" fill="none" stroke="#241c30" stroke-width="1.2"/>
<path d="M323.10,491.40 L323.10,449.20 A42.2,42.2 0 0 1 345.32,527.28 Z" fill="#c10024" stroke="#c10024" stroke-width="0.4"/>
<path d="M323.10,491.40 L345.32,527.28 A42.2,42.2 0 0 1 281.08,487.51 Z" fill="#f39000" stroke="#f39000" stroke-width="0.4"/>
<path d="M323.10,491.40 L281.08,487.51 A42.2,42.2 0 0 1 323.10,449.20 Z" fill="#38a934" stroke="#38a934" stroke-width="0.4"/>
<circle cx="323.1" cy="491.4" r="42.2" fill="none" stroke="#241c30" stroke-width="1.2"/>
<path d="M416.30,491.30 L416.30,449.10 A42.2,42.2 0 1 1 399.49,530.01 Z" fill="#c10024" stroke="#c10024" stroke-width="0.4"/>
<path d="M416.30,491.30 L399.49,530.01 A42.2,42.2 0 0 1 385.46,462.50 Z" fill="#f39000" stroke="#f39000" stroke-width="0.4"/>
<path d="M416.30,491.30 L385.46,462.50 A42.2,42.2 0 0 1 416.30,449.10 Z" fill="#38a934" stroke="#38a934" stroke-width="0.4"/>
<circle cx="416.3" cy="491.3" r="42.2" fill="none" stroke="#241c30" stroke-width="1.2"/>
<text x="232.3" y="547.7" font-size="8.2" text-anchor="middle" font-weight="normal" fill="#2b2b2b">n = 14</text>
<text x="325.2" y="547.7" font-size="8.2" text-anchor="middle" font-weight="normal" fill="#2b2b2b">n = 17</text>
<text x="417.4" y="547.7" font-size="8.2" text-anchor="middle" font-weight="normal" fill="#2b2b2b">n = 23</text>
</svg>
</body></html>
